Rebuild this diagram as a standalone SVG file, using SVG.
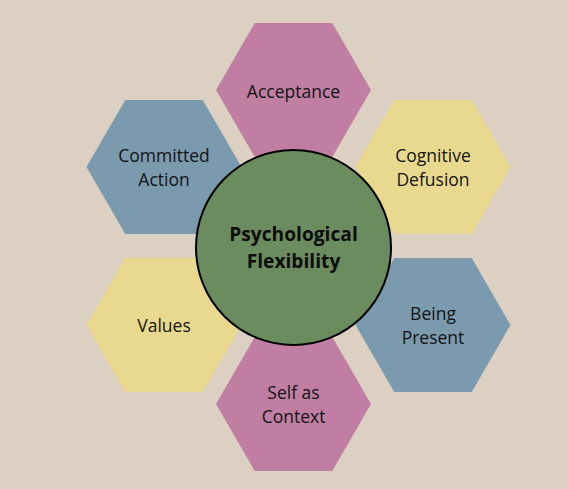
<svg xmlns="http://www.w3.org/2000/svg" width="568" height="489" viewBox="0 0 568 489">
<defs>
<style>
.bg{fill:#dbd0c1}
.pink{fill:#bf7ea2}
.blue{fill:#7b9aae}
.yellow{fill:#e8d98f}
.lbl{font-family:"Open Sans","Liberation Sans",sans-serif;font-size:17.5px;fill:#141414;text-anchor:middle}
.ctr{font-family:"Open Sans","Liberation Sans",sans-serif;font-size:19.2px;font-weight:bold;fill:#0d0d0d;text-anchor:middle}
</style>
<polygon id="hex" points="-77.5,0 -38.75,-67 38.75,-67 77.5,0 38.75,67 -38.75,67"/>
</defs>
<rect class="bg" x="0" y="0" width="568" height="489"/>
<g id="acceptance">
<use href="#hex" class="pink" x="293.5" y="90"/>
<text class="lbl" x="293.5" y="98">Acceptance</text>
</g>
<g id="committed-action">
<use href="#hex" class="blue" x="164" y="167"/>
<text class="lbl" x="164" y="161.5">Committed</text>
<text class="lbl" x="164" y="186">Action</text>
</g>
<g id="cognitive-defusion">
<use href="#hex" class="yellow" x="433" y="167"/>
<text class="lbl" x="433" y="161.5">Cognitive</text>
<text class="lbl" x="433" y="186">Defusion</text>
</g>
<g id="being-present">
<use href="#hex" class="blue" x="433" y="325"/>
<text class="lbl" x="433" y="319.5">Being</text>
<text class="lbl" x="433" y="344">Present</text>
</g>
<g id="values">
<use href="#hex" class="yellow" x="164" y="325"/>
<text class="lbl" x="164" y="331.5">Values</text>
</g>
<g id="self-as-context">
<use href="#hex" class="pink" x="293.5" y="404"/>
<text class="lbl" x="293.5" y="398.5">Self as</text>
<text class="lbl" x="293.5" y="423">Context</text>
</g>
<g id="connectors"></g>
<g id="psychological-flexibility">
<circle cx="293.5" cy="247.5" r="97.5" fill="#6b8c5f" stroke="#000" stroke-width="2"/>
<text class="ctr" x="293.5" y="240.5">Psychological</text>
<text class="ctr" x="293.5" y="268">Flexibility</text>
</g>
</svg>
